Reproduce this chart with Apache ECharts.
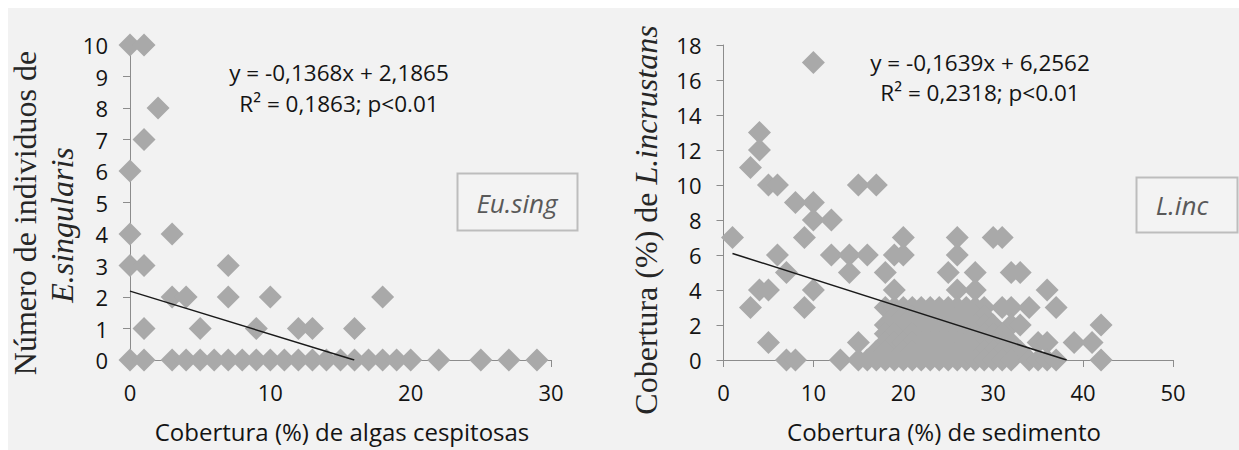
<!DOCTYPE html>
<html>
<head>
<meta charset="utf-8">
<script src="https://cdn.jsdelivr.net/npm/echarts@6/dist/echarts.min.js"></script>
<style>
html,body{margin:0;padding:0;background:#ffffff;}
#c{width:1239px;height:450px;}
</style>
</head>
<body>
<div id="c"></div>
<script>
// ---- Left panel: E. singularis vs algas cespitosas ----
const leftX = [0,1, 1,2, 0, 0,3, 0,1,7, 3,4,7,10,18, 1,5,9,12,13,16,
  0,1,3,4,5,6,7,8,9,10,11,12,13,14,15,16,17,18,19,20,22,25,27,29];
const leftY = [10,10, 7,8, 6, 4,4, 3,3,3, 2,2,2,2,2, 1,1,1,1,1,1,
  0,0,0,0,0,0,0,0,0,0,0,0,0,0,0,0,0,0,0,0,0,0,0,0];
const leftTrendX = [0, 15.98];
const leftTrendY = [2.1865, 0];
const leftXTicks = [0, 10, 20, 30];
const leftYTicks = [0,1,2,3,4,5,6,7,8,9,10];

// ---- Right panel: L. incrustans vs sedimento ----
const rightX = [10, 4,4,3, 5,6,15,17, 8,10, 10,12, 1,9,20,26,30,31,
  6,12,14,16,19,20,26, 7,14,18,25,28,32,33,
  4,5,10,19,26,28,36,
  3,9,18,19,20,21,22,23,24,25,26,27,28,29,31,32,34,37,
  19,20,21,22,23,24,25,27,28,29,
  18,19,20,21,22,23,24,25,26,27,28,29,30,32,33,42,
  18,19,21,22,23,24,26,27,28,29,30,31,
  5,15,18,19,20,21,22,23,24,25,26,27,28,29,30,31,32,35,36,39,41,
  17,18,20,21,22,23,24,25,27,28,29,30,31,33,
  7,8,13,15,16,17,18,19,20,21,22,23,24,25,26,27,28,29,30,31,32,34,35,36,37,42];
const rightY = [17, 13,12,11, 10,10,10,10, 9,9, 8,8, 7,7,7,7,7,7,
  6,6,6,6,6,6,6, 5,5,5,5,5,5,5,
  4,4,4,4,4,4,4,
  3,3,3,3,3,3,3,3,3,3,3,3,3,3,3,3,3,3,
  2.5,2.5,2.5,2.5,2.5,2.5,2.5,2.5,2.5,2.5,
  2,2,2,2,2,2,2,2,2,2,2,2,2,2,2,2,
  1.5,1.5,1.5,1.5,1.5,1.5,1.5,1.5,1.5,1.5,1.5,1.5,
  1,1,1,1,1,1,1,1,1,1,1,1,1,1,1,1,1,1,1,1,1,
  0.5,0.5,0.5,0.5,0.5,0.5,0.5,0.5,0.5,0.5,0.5,0.5,0.5,0.5,
  0,0,0,0,0,0,0,0,0,0,0,0,0,0,0,0,0,0,0,0,0,0,0,0,0,0];
const rightTrendX = [1, 38.17];
const rightTrendY = [6.09, 0];
const rightXTicks = [0, 10, 20, 30, 40, 50];
const rightYTicks = [0,2,4,6,8,10,12,14,16,18];

const zip = (a, b) => a.map((v, i) => [v, b[i]]);

const SANS = '"Open Sans", sans-serif';
const SERIF = '"Liberation Serif", "DejaVu Serif", serif';
const AXIS = '#8c8c8c';
const MARK = '#a9a9a9';
const TXT = '#141414';

function xAxis(grid, ticks) {
  return {
    type: 'value', gridIndex: grid,
    min: ticks[0], max: ticks[ticks.length - 1], interval: ticks[1] - ticks[0],
    axisLine: {show: true, onZero: false, lineStyle: {color: AXIS, width: 1}},
    axisTick: {show: true, inside: false, length: 7, lineStyle: {color: AXIS}},
    axisLabel: {margin: 21, fontFamily: SANS, fontSize: 22, color: TXT},
    splitLine: {show: false}
  };
}
function yAxis(grid, ticks) {
  return {
    type: 'value', gridIndex: grid,
    min: ticks[0], max: ticks[ticks.length - 1], interval: ticks[1] - ticks[0],
    axisLine: {show: true, lineStyle: {color: AXIS, width: 1}},
    axisTick: {show: true, inside: false, length: 7, lineStyle: {color: AXIS}},
    axisLabel: {margin: 22, fontFamily: SANS, fontSize: 22, color: TXT},
    splitLine: {show: false}
  };
}

const chart = echarts.init(document.getElementById('c'), null, {renderer: 'svg'});
chart.setOption({
  backgroundColor: '#ffffff',
  animation: false,
  grid: [
    {left: 130, top: 45, width: 421, height: 315},
    {left: 723.5, top: 45, width: 449.5, height: 315}
  ],
  xAxis: [xAxis(0, leftXTicks), xAxis(1, rightXTicks)],
  yAxis: [yAxis(0, leftYTicks), yAxis(1, rightYTicks)],
  series: [
    {type: 'scatter', xAxisIndex: 0, yAxisIndex: 0, symbol: 'diamond', symbolSize: 23,
     clip: false, itemStyle: {color: MARK, opacity: 1}, data: zip(leftX, leftY), z: 3},
    {type: 'line', xAxisIndex: 0, yAxisIndex: 0, showSymbol: false, symbol: 'none',
     lineStyle: {color: '#1a1a1a', width: 1.5}, data: zip(leftTrendX, leftTrendY), z: 4},
    {type: 'scatter', xAxisIndex: 1, yAxisIndex: 1, symbol: 'diamond', symbolSize: 23,
     clip: false, itemStyle: {color: MARK, opacity: 1}, data: zip(rightX, rightY), z: 3},
    {type: 'line', xAxisIndex: 1, yAxisIndex: 1, showSymbol: false, symbol: 'none',
     lineStyle: {color: '#1a1a1a', width: 1.5}, data: zip(rightTrendX, rightTrendY), z: 4}
  ],
  graphic: [
    {type: 'rect', z: -10, silent: true, shape: {x: 8, y: 8, width: 1231, height: 442},
     style: {fill: '#f2f2f2'}},
    // equations
    {type: 'text', x: 339, y: 72, z: 10, style: {text: 'y = -0,1368x + 2,1865', font: '22.5px ' + SANS,
      fill: TXT, align: 'center', verticalAlign: 'middle'}},
    {type: 'text', x: 339, y: 103, z: 10, style: {text: 'R² = 0,1863; p<0.01', font: '22.5px ' + SANS,
      fill: TXT, align: 'center', verticalAlign: 'middle'}},
    {type: 'text', x: 980, y: 62, z: 10, style: {text: 'y = -0,1639x + 6,2562', font: '22.5px ' + SANS,
      fill: TXT, align: 'center', verticalAlign: 'middle'}},
    {type: 'text', x: 980, y: 92, z: 10, style: {text: 'R² = 0,2318; p<0.01', font: '22.5px ' + SANS,
      fill: TXT, align: 'center', verticalAlign: 'middle'}},
    // legend boxes
    {type: 'rect', z: 5, shape: {x: 457.5, y: 173.5, width: 120, height: 57},
     style: {fill: '#f3f3f3', stroke: '#bdbdbd', lineWidth: 2}},
    {type: 'text', x: 517, y: 203, z: 6, style: {text: 'Eu.sing', font: 'italic 26px ' + SANS,
      fill: '#595959', align: 'center', verticalAlign: 'middle'}},
    {type: 'rect', z: 5, shape: {x: 1136.5, y: 177.5, width: 101, height: 55},
     style: {fill: '#f3f3f3', stroke: '#bdbdbd', lineWidth: 2}},
    {type: 'text', x: 1182, y: 205, z: 6, style: {text: 'L.inc', font: 'italic 26px ' + SANS,
      fill: '#595959', align: 'center', verticalAlign: 'middle'}},
    // x-axis titles
    {type: 'text', x: 342, y: 431, z: 10, style: {text: 'Cobertura (%) de algas cespitosas', font: '24px ' + SANS,
      fill: TXT, align: 'center', verticalAlign: 'middle'}},
    {type: 'text', x: 944, y: 431, z: 10, style: {text: 'Cobertura (%) de sedimento', font: '24px ' + SANS,
      fill: TXT, align: 'center', verticalAlign: 'middle'}},
    // y-axis titles (rotated)
    {type: 'text', x: 25, y: 213, rotation: Math.PI / 2, z: 10,
     style: {text: 'Número de individuos de', font: '32px ' + SERIF, fill: '#262626',
       align: 'center', verticalAlign: 'middle'}},
    {type: 'text', x: 62, y: 225, rotation: Math.PI / 2, z: 10,
     style: {text: 'E.singularis', font: 'italic 32px ' + SERIF, fill: '#262626',
       align: 'center', verticalAlign: 'middle'}},
    {type: 'text', x: 646, y: 220, rotation: Math.PI / 2, z: 10,
     style: {text: '{n|Cobertura (%) de }{i|L.incrustans}', align: 'center', verticalAlign: 'middle',
       rich: {n: {font: '32px ' + SERIF, fill: '#262626'}, i: {font: 'italic 32px ' + SERIF, fill: '#262626'}}}}
  ]
});
</script>
</body>
</html>
